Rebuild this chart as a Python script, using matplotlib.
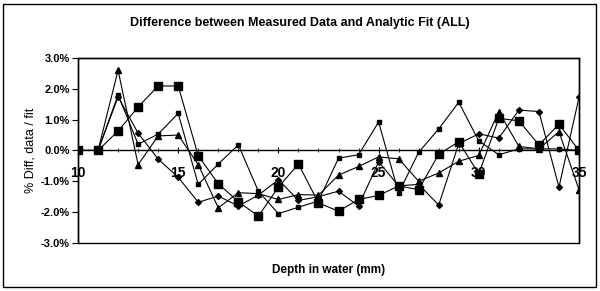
import matplotlib
matplotlib.use("Agg")
import matplotlib.pyplot as plt
from matplotlib.patches import Rectangle
from matplotlib.ticker import MultipleLocator, FuncFormatter

# depth in water (mm)
depth = list(range(10, 36))

# % difference, data / fit
big_sq = [0, 0, 0.63, 1.41, 2.09, 2.09, -0.17, -1.08, -1.66, -2.13, -1.19, -0.44, -1.70,
          -1.97, -1.59, -1.46, -1.15, -1.27, -0.12, 0.28, -0.76, 1.04, 0.96, 0.18, 0.85, 0.0]
small_sq = [0, 0, 1.80, 0.20, 0.53, 1.20, -1.10, -0.44, 0.18, -1.32, -2.05, -1.84, -1.64,
            -0.25, -0.14, 0.92, -1.38, -0.06, 0.70, 1.56, 0.31, -0.14, 0.05, 0.05, 0.05, 0.0]
triangle = [0, 0, 2.60, -0.46, 0.47, 0.50, -0.46, -1.86, -1.37, -1.40, -1.59, -1.43, -1.45,
            -0.80, -0.52, -0.21, -0.27, -1.00, -0.73, -0.35, -0.16, 1.26, 0.13, 0.05, 0.61, -1.27]
diamond = [0, 0, 1.74, 0.56, -0.28, -0.87, -1.68, -1.48, -1.80, -1.45, -0.95, -1.62, -1.50,
           -1.32, -1.80, -0.37, -1.15, -1.10, -1.77, 0.22, 0.54, 0.40, 1.31, 1.26, -1.19, 1.72]

title = 'Difference between Measured Data and Analytic Fit (ALL)'
xlabel = 'Depth in water (mm)'
ylabel = '% Diff, data / fit'

plt.rcParams['font.family'] = ['Liberation Sans Narrow', 'Liberation Sans', 'DejaVu Sans']
plt.rcParams['font.weight'] = 'bold'

fig = plt.figure(figsize=(6, 2.91), dpi=100)
ax = fig.add_axes([0.13, 0.165, 0.835, 0.636])

kw = dict(color='black', lw=0.8)
ax.plot(depth, small_sq, marker='s', ms=3.2, **kw)
ax.plot(depth, triangle, marker='^', ms=4, **kw)
ax.plot(depth, diamond, marker='D', ms=3, **kw)
ax.plot(depth, big_sq, marker='s', ms=5.5, **kw)

ax.set_xlim(10, 35)
ax.set_ylim(-3, 3)
ax.yaxis.set_major_locator(MultipleLocator(1))
ax.yaxis.set_major_formatter(FuncFormatter(lambda v, p: f'{v:.1f}%'))
ax.xaxis.set_major_locator(MultipleLocator(5))
ax.xaxis.set_minor_locator(MultipleLocator(1))

# x axis crosses at zero, frame drawn separately
ax.spines['bottom'].set_position(('data', 0))
for s in ax.spines.values():
    s.set_linewidth(1)
ax.add_patch(Rectangle((0, 0), 1, 1, transform=ax.transAxes, fill=False,
                       lw=1, ec='black', clip_on=False))

ax.tick_params(axis='x', which='both', direction='inout', length=4, labelsize=10, pad=9)
ax.tick_params(axis='x', which='minor', length=3)
ax.tick_params(axis='y', direction='out', length=4, labelsize=8, pad=2)

ax.set_ylabel(ylabel, fontsize=9, labelpad=3)
fig.text(0.5475, 0.072, xlabel, ha='center', va='center', fontsize=8.5)
fig.text(0.5, 0.922, title, ha='center', va='center', fontsize=9)

fig.patches.append(Rectangle((0.005, 0.014), 0.988, 0.972, transform=fig.transFigure,
                             fill=False, ec='black', lw=1))

fig.savefig('out.png', dpi=100)
